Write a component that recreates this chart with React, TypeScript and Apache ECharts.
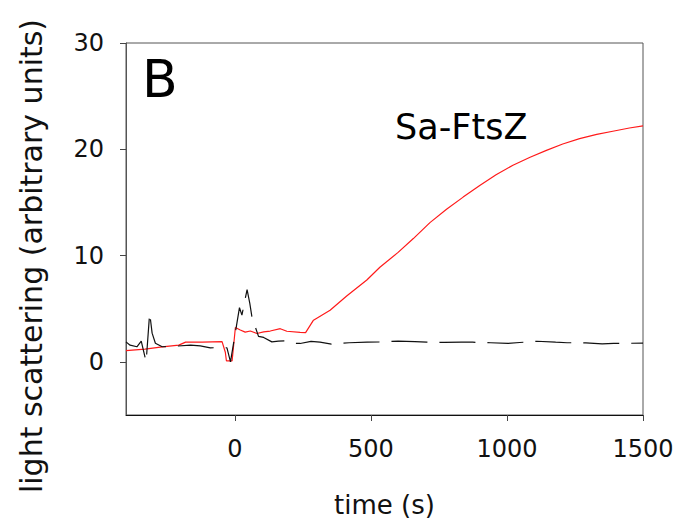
import React, { useEffect, useRef } from "react";
import * as echarts from "echarts";

// Sa-FtsZ light scattering (red, solid)
const redTime = [-400, -330, -267, -206, -181, -120, -47, -35, -31, -10, 2, 20, 38, 57, 81, 106, 130, 167, 191, 240, 260, 289, 350, 411, 485, 533, 600, 656, 717, 778, 839, 900, 960, 1022, 1085, 1145, 1205, 1267, 1330, 1389, 1450, 1500];
const redSignal = [1.05, 1.2, 1.41, 1.57, 1.86, 1.86, 1.9, 0.9, 0.1, 0.1, 3.23, 3.0, 2.8, 2.9, 2.67, 2.82, 2.9, 3.12, 2.88, 2.78, 2.75, 3.92, 4.86, 6.2, 7.7, 8.9, 10.3, 11.6, 13.1, 14.35, 15.5, 16.6, 17.6, 18.5, 19.25, 19.9, 20.5, 21.0, 21.4, 21.7, 22.0, 22.2];

// control trace (black, dashed)
const blackTime = [-400, -385, -360, -344, -326, -313, -304, -292, -267, -218, -163, -127, -90, -47, -29, -16, 17, 26, 45, 55, 63, 87, 106, 136, 160, 185, 210, 240, 280, 313, 355, 420, 486, 531, 600, 662, 705, 770, 833, 874, 940, 1004, 1047, 1110, 1179, 1221, 1290, 1350, 1392, 1450, 1500];
const blackSignal = [1.88, 1.57, 1.42, 1.95, 0.0, 4.6, 2.7, 1.75, 1.42, 1.48, 1.57, 1.5, 1.32, 1.35, 1.32, 0.0, 5.1, 4.4, 6.8, 5.5, 4.2, 2.4, 2.3, 1.88, 1.95, 1.98, 1.75, 1.73, 1.93, 1.85, 1.67, 1.8, 1.85, 1.88, 1.95, 1.9, 1.85, 1.83, 1.86, 1.85, 1.8, 1.73, 1.82, 1.94, 1.85, 1.8, 1.78, 1.7, 1.73, 1.75, 1.76];

const xTicks = [0, 500, 1000, 1500];
const yTicks = [0, 10, 20, 30];

const FONT = "DejaVu Sans";

export default function App() {
  const ref = useRef<HTMLDivElement>(null);
  useEffect(() => {
    const chart = echarts.init(ref.current!, null, { renderer: "svg" });
    const red = redTime.map((t, i) => [t, redSignal[i]]);
    const black = blackTime.map((t, i) => [t, blackSignal[i]]);
    chart.setOption({
      animation: false,
      backgroundColor: "#ffffff",
      grid: {
        left: 126,
        right: 40,
        top: 43,
        bottom: 110,
        show: true,
        borderColor: "#555",
        borderWidth: 1,
        backgroundColor: "transparent",
      },
      xAxis: {
        type: "value",
        min: -400,
        max: 1500,
        splitLine: { show: false },
        axisLine: { show: true, onZero: false, lineStyle: { color: "#111", width: 1 } },
        axisTick: { show: true, customValues: xTicks, length: 6, inside: false, lineStyle: { color: "#444" } },
        axisLabel: {
          customValues: xTicks,
          formatter: (v: number) => String(v),
          fontFamily: FONT,
          fontSize: 24,
          color: "#111",
          margin: 22,
        },
        name: "time (s)",
        nameLocation: "middle",
        nameGap: 77,
        nameTextStyle: { fontFamily: FONT, fontSize: 26, color: "#111" },
      },
      yAxis: {
        type: "value",
        min: -5,
        max: 30,
        splitLine: { show: false },
        axisLine: { show: true, onZero: false, lineStyle: { color: "#555", width: 1 } },
        axisTick: { show: true, customValues: yTicks, length: 6, inside: false, lineStyle: { color: "#444" } },
        axisLabel: {
          customValues: yTicks,
          formatter: (v: number) => String(v),
          fontFamily: FONT,
          fontSize: 24,
          color: "#111",
          margin: 22,
        },
      },
      graphic: [
        {
          type: "text",
          x: 31,
          y: 256,
          rotation: Math.PI / 2,
          style: {
            text: "light scattering (arbitrary units)",
            fontFamily: FONT,
            fontSize: 30,
            fill: "#111",
            align: "center",
            verticalAlign: "middle",
          },
        },
        {
          type: "text",
          x: 142,
          y: 79,
          style: {
            text: "B",
            fontFamily: FONT,
            fontSize: 52,
            fill: "#000",
            align: "left",
            verticalAlign: "middle",
          },
        },
        {
          type: "text",
          x: 395,
          y: 127,
          style: {
            text: "Sa-FtsZ",
            fontFamily: FONT,
            fontSize: 35,
            fill: "#000",
            align: "left",
            verticalAlign: "middle",
          },
        },
      ],
      series: [
        {
          type: "line",
          data: red,
          showSymbol: false,
          symbol: "none",
          lineStyle: { color: "#ff1a1a", width: 1.2 },
          z: 2,
        },
        {
          type: "line",
          data: black,
          showSymbol: false,
          symbol: "none",
          lineStyle: { color: "#111", width: 1.2, type: [36, 12], dashOffset: 0 },
          z: 3,
        },
      ],
    });
    return () => chart.dispose();
  }, []);
  return (
    <div
      ref={ref}
      style={{ position: "fixed", left: 0, top: 0, width: 683, height: 525 }}
    />
  );
}
